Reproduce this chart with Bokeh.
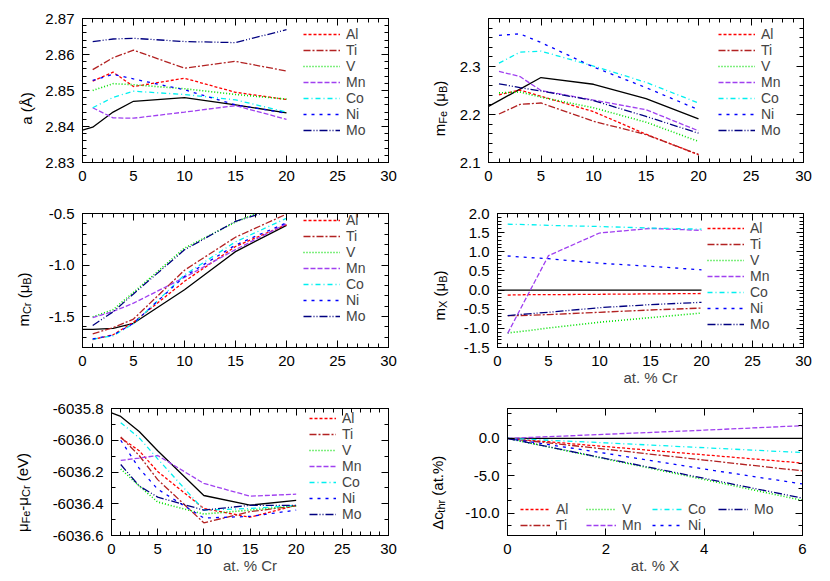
import math
from bokeh.plotting import figure
from bokeh.models import (Range1d, SingleIntervalTicker, LinearAxis, Legend, LegendItem,
                          CustomJSTickFormatter, PrintfTickFormatter)
from bokeh.core.properties import value
from bokeh.layouts import column, row
from bokeh.embed import file_html
from bokeh.resources import INLINE

# ---------------- data ----------------
elements = ["Al", "Ti", "V", "Mn", "Co", "Ni", "Mo"]
x_alloy = [1, 3, 5, 10, 15, 20]          # at.% Cr for the Fe-Cr-X alloys
x_fecr = [0, 1, 3, 5, 10, 15, 20]        # at.% Cr for binary Fe-Cr (black line)
x_add = [0, 2, 4, 6]                     # at.% X (bottom-right panel)

lattice_fecr = [2.8390, 2.8398, 2.8440, 2.8470, 2.8480, 2.8460, 2.8438]
lattice = {
    "Al": [2.8526, 2.8551, 2.8511, 2.8534, 2.8495, 2.8475],
    "Ti": [2.8558, 2.8591, 2.8612, 2.8562, 2.8581, 2.8554],
    "V":  [2.8500, 2.8519, 2.8516, 2.8505, 2.8489, 2.8476],
    "Mn": [2.8452, 2.8424, 2.8423, 2.8440, 2.8458, 2.8420],
    "Co": [2.8452, 2.8481, 2.8498, 2.8489, 2.8474, 2.8440],
    "Ni": [2.8528, 2.8545, 2.8532, 2.8502, 2.8460, 2.8437],
    "Mo": [2.8636, 2.8643, 2.8645, 2.8636, 2.8633, 2.8669],
}

mfe_fecr = [2.217, 2.229, 2.253, 2.277, 2.263, 2.233, 2.191]
mfe = {
    "Al": [2.241, 2.251, 2.238, 2.206, 2.159, 2.116],
    "Ti": [2.201, 2.221, 2.224, 2.186, 2.158, 2.117],
    "V":  [2.245, 2.247, 2.236, 2.214, 2.184, 2.144],
    "Mn": [2.290, 2.279, 2.250, 2.230, 2.210, 2.166],
    "Co": [2.307, 2.330, 2.332, 2.301, 2.267, 2.224],
    "Ni": [2.365, 2.368, 2.350, 2.299, 2.256, 2.210],
    "Mo": [2.264, 2.256, 2.249, 2.229, 2.196, 2.161],
}

mcr_fecr = [-1.625, -1.625, -1.615, -1.565, -1.240, -0.870, -0.615]
mcr = {
    "Al": [-1.723, -1.677, -1.555, -1.158, -0.820, -0.607],
    "Ti": [-1.668, -1.607, -1.524, -1.050, -0.730, -0.506],
    "V":  [-1.503, -1.433, -1.265, -0.836, -0.583, -0.375],
    "Mn": [-1.510, -1.450, -1.370, -1.120, -0.850, -0.600],
    "Co": [-1.720, -1.686, -1.570, -1.096, -0.775, -0.546],
    "Ni": [-1.717, -1.680, -1.565, -1.110, -0.806, -0.590],
    "Mo": [-1.586, -1.454, -1.280, -0.852, -0.576, -0.424],
}

mx_fecr = [0, 0, 0, 0, 0, 0, 0]
mx = {
    "Al": [-0.13, -0.12, -0.12, -0.11, -0.10, -0.09],
    "Ti": [-0.67, -0.66, -0.64, -0.58, -0.52, -0.47],
    "V":  [-1.12, -1.06, -0.99, -0.84, -0.72, -0.60],
    "Mn": [-1.13, -0.11, 0.90, 1.49, 1.61, 1.56],
    "Co": [1.72, 1.71, 1.69, 1.66, 1.62, 1.59],
    "Ni": [0.89, 0.85, 0.82, 0.70, 0.62, 0.53],
    "Mo": [-0.67, -0.62, -0.58, -0.46, -0.38, -0.32],
}

mu_fecr = [-6035.828, -6035.850, -6035.945, -6036.066, -6036.348, -6036.409, -6036.379]
mu = {
    "Al": [-6035.985, -6036.066, -6036.197, -6036.430, -6036.485, -6036.410],
    "Ti": [-6035.980, -6036.096, -6036.248, -6036.520, -6036.450, -6036.413],
    "V":  [-6036.181, -6036.288, -6036.389, -6036.465, -6036.440, -6036.413],
    "Mn": [-6036.127, -6036.112, -6036.096, -6036.272, -6036.352, -6036.340],
    "Co": [-6035.889, -6035.985, -6036.117, -6036.440, -6036.430, -6036.410],
    "Ni": [-6036.000, -6036.177, -6036.308, -6036.490, -6036.480, -6036.440],
    "Mo": [-6036.153, -6036.288, -6036.358, -6036.440, -6036.410, -6036.410],
}

dc_fecr = [0, 0, 0, 0]
dc = {
    "Al": [0, -1.10, -2.20, -3.30],
    "Ti": [0, -1.45, -2.90, -4.35],
    "V":  [0, -2.75, -5.50, -8.30],
    "Mn": [0, 0.55, 1.10, 1.70],
    "Co": [0, -0.60, -1.25, -1.90],
    "Ni": [0, -2.00, -4.10, -6.10],
    "Mo": [0, -2.70, -5.35, -8.00],
}

# ---------------- styles ----------------
FONT = "Liberation Sans"
style = {
    "Al": ("#ff0000", "3 2"),
    "Ti": ("#b22222", "7 2 2 2"),
    "V":  ("#00e000", "1 2"),
    "Mn": ("#a040f0", "5 2"),
    "Co": ("#00f0f0", "5 3 1 3"),
    "Ni": ("#0000ff", "3 5"),
    "Mo": ("#000080", "8 2 1 2 1 2"),
}

WID = {"a": .556, "m": .833, "F": .611, "e": .556, "C": .722, "r": .333, "X": .667,
       "μ": .576, "B": .667, " ": .278, "(": .333, ")": .333, "-": .333, "Å": .667,
       "Δ": .612, "c": .5, "t": .278, "h": .556, ".": .278, "%": .889, "V": .667}


def tw(s, size):
    return sum(WID.get(ch, .6) for ch in s) * size


def empty_fmt():
    return CustomJSTickFormatter(code="return ''")


def make_panel(width, height, bl, br, bt, bb, xr, yr, xint, xminor, yint, yminor, yfmt, xfmt="%d"):
    p = figure(width=width, height=height, output_backend="svg", toolbar_location=None,
               x_range=Range1d(*xr), y_range=Range1d(*yr),
               min_border_left=bl, min_border_right=br, min_border_top=bt, min_border_bottom=bb,
               x_axis_type=None, y_axis_type=None)
    p.outline_line_color = "black"
    p.outline_line_width = 1
    p.background_fill_color = "white"
    p.border_fill_color = "white"
    p.xgrid.visible = False
    p.ygrid.visible = False
    xt = SingleIntervalTicker(interval=xint, num_minor_ticks=xminor)
    yt = SingleIntervalTicker(interval=yint, num_minor_ticks=yminor)
    for place, tick, labelled in [("below", xt, True), ("above", xt, False),
                                  ("left", yt, True), ("right", yt, False)]:
        ax = LinearAxis(ticker=tick)
        ax.formatter = PrintfTickFormatter(format=(xfmt if place in ("below", "above") else yfmt)) if labelled else empty_fmt()
        ax.major_tick_in = 7
        ax.major_tick_out = 0
        ax.minor_tick_in = 4
        ax.minor_tick_out = 0
        ax.axis_line_color = "black"
        ax.major_tick_line_color = "black"
        ax.minor_tick_line_color = "black"
        ax.major_label_text_font = FONT
        ax.major_label_text_font_size = "15px"
        ax.major_label_text_color = "black"
        ax.major_label_standoff = 8 if labelled else 0
        ax.axis_label_text_font = FONT
        ax.axis_label_text_font_size = "15px"
        ax.axis_label_text_font_style = "normal"
        ax.axis_label_standoff = 0
        p.add_layout(ax, place)
    return p


def label_strip(width, height, bt, bb, parts, base_x, size=15, sub=11, shift=3.5):
    """Narrow figure holding the rotated y-axis title (with subscripts); 1 data unit = 1 px."""
    s = figure(frame_width=width, frame_height=height, output_backend="svg", toolbar_location=None,
               x_range=Range1d(0, width), y_range=Range1d(0, height),
               min_border=0, min_border_left=0, min_border_right=0,
               min_border_top=0, min_border_bottom=0,
               x_axis_type=None, y_axis_type=None)
    s.title = None
    s.outline_line_color = None
    s.xgrid.visible = False
    s.ygrid.visible = False
    fh = height - bt - bb
    total = sum(tw(t, sub if sb else size) for t, sb in parts)
    y = bb + fh / 2 - total / 2
    for t, sb in parts:
        fs = sub if sb else size
        stripped = t.lstrip(" ")
        y += (len(t) - len(stripped)) * WID[" "] * fs
        w = tw(stripped, fs)
        s.text(x=[base_x + (shift if sb else 0)], y=[y + w / 2], text=[stripped], angle=math.pi / 2,
               text_font=value(FONT), text_font_size=value(f"{fs}px"), text_color="black",
               text_align="center", text_baseline="alphabetic")
        y += w
    return s


def draw(p, xs, data, xfe, fe, loc, gw=37, nrows=None, label_width=20):
    p.line(xfe, fe, line_color="black", line_width=1.3)
    items = []
    for e in elements:
        c, d = style[e]
        lw = 1.6 if e == "V" else 1.3
        r = p.line(xs, data[e], line_color=c, line_width=lw, line_dash=d)
        items.append(LegendItem(label=e, renderers=[r]))
    leg = Legend(items=items, location=loc, orientation="vertical", background_fill_alpha=0,
                 border_line_alpha=0, padding=0, margin=0, spacing=0,
                 label_text_font=FONT, label_text_font_size="14px", label_height=16,
                 glyph_height=16, glyph_width=gw, label_standoff=6, label_width=label_width)
    if nrows:
        leg.nrows = nrows
    p.add_layout(leg)


# ---------------- panels ----------------
p1 = make_panel(375, 198, 42, 27, 18, 36, (0, 30), (2.83, 2.87), 5, 5, 0.01, 5, "%.2f")
draw(p1, x_alloy, lattice, x_fecr, lattice_fecr, (221, 24))
s1 = label_strip(40, 198, 18, 36, [("a (Å)", False)], 26)

p2 = make_panel(371, 198, 37, 19, 18, 36, (0, 30), (2.1, 2.4), 5, 5, 0.1, 5, "%.1f")
draw(p2, x_alloy, mfe, x_fecr, mfe_fecr, (230, 24))
s2 = label_strip(36, 198, 18, 36, [("m", False), ("Fe", True), (" (μ", False), ("B", True), (")", False)], 24)

p3 = make_panel(375, 192, 42, 27, 15, 35, (0, 30), (-1.8, -0.5), 5, 5, 0.5, 5, "%.1f")
draw(p3, x_alloy, mcr, x_fecr, mcr_fecr, (221, 23))
s3 = label_strip(40, 192, 15, 35, [("m", False), ("Cr", True), (" (μ", False), ("B", True), (")", False)], 23)

p4 = make_panel(371, 192, 46, 19, 15, 43, (0, 30), (-1.5, 2.0), 5, 5, 0.5, 5, "%.1f")
p4.below[0].axis_label = "at. % Cr"
draw(p4, x_alloy, mx, x_fecr, mx_fecr, (210, 15))
s4 = label_strip(36, 192, 15, 43, [("m", False), ("X", True), (" (μ", False), ("B", True), (")", False)], 23.5)

p5 = make_panel(379, 186, 75, 27, 18, 36, (0, 30), (-6036.6, -6035.8), 5, 5, 0.2, 2, "%.1f")
p5.below[0].axis_label = "at. % Cr"
draw(p5, x_alloy, mu, x_fecr, mu_fecr, (198, (186 - 18 - 36) - 7 - 112), gw=27)
s5 = label_strip(36, 186, 18, 36, [("μ", False), ("Fe", True), ("-μ", False), ("Cr", True), (" (eV)", False)], 22)

p6 = make_panel(371, 186, 56, 20, 18, 36, (0, 6), (-13, 4), 2, 2, 5, 3, "%.1f")
p6.below[0].axis_label = "at. % X"
draw(p6, x_add, dc, x_add, dc_fecr, (13, 2), gw=30, nrows=2, label_width=30)
s6 = label_strip(36, 186, 18, 36, [("Δc", False), ("thr", True), (" (at.%)", False)], 22)

layout = column(row(s1, p1, s2, p2), row(s3, p3, s4, p4), row(s5, p5, s6, p6))
open("out.html", "w").write(file_html(layout, INLINE))
